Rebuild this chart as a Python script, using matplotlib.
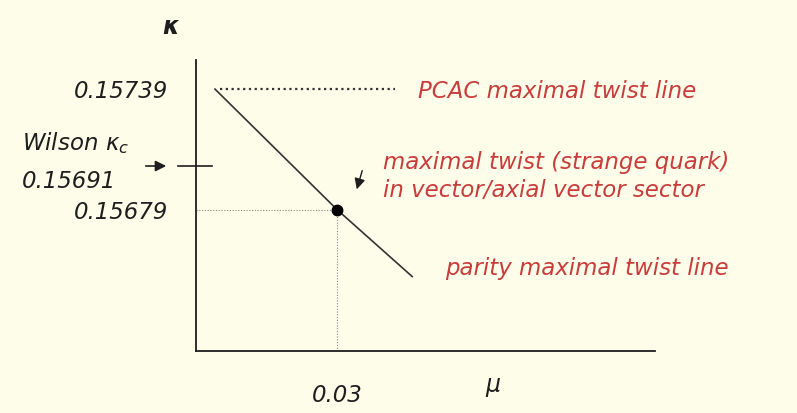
import numpy as np
import matplotlib
matplotlib.use('Agg')
import matplotlib.pyplot as plt

# schematic values
kappa_pcac = 0.15739
kappa_wilson = 0.15691
kappa_strange = 0.15679
mu_strange = 0.03

# parity maximal twist line (mu, kappa)
line_mu = [0.00404, 0.03, 0.0460]
line_kappa = [0.15739, 0.15679, 0.15661]
pcac_mu = [0.0051, 0.0423]

y_ticks = [kappa_pcac, kappa_strange]
y_labels = ['0.15739', '0.15679']
x_ticks = [mu_strange]
x_labels = ['0.03']

# the kappa axis of the sketch is not to scale: piecewise mapping
kap_knots = [0.15641, 0.15679, 0.15691, 0.15739, 0.15758]
pos_knots = [0.0, 0.486, 0.636, 0.900, 1.0]

def fwd(k):
    return np.interp(k, kap_knots, pos_knots)

def inv(p):
    return np.interp(p, pos_knots, kap_knots)

bg = '#FDFDE9'
red = '#C83C3C'
ink = '#1e1e1e'
W, H = 797, 413

fig = plt.figure(figsize=(W / 100, H / 100), dpi=100, facecolor=bg)
ax = fig.add_axes([196 / W, 62 / H, 459 / W, 291 / H])
ax.set_facecolor(bg)
ax.set_yscale('function', functions=(fwd, inv))
ax.set_xlim(0, 0.09766)
ax.set_ylim(kap_knots[0], kap_knots[-1])

for s in ['top', 'right']:
    ax.spines[s].set_visible(False)
for s in ['left', 'bottom']:
    ax.spines[s].set_linewidth(1.3)
    ax.spines[s].set_color(ink)

ax.set_yticks(y_ticks)
ax.set_yticklabels(y_labels)
ax.set_xticks(x_ticks)
ax.set_xticklabels(x_labels)
ax.yaxis.set_minor_locator(matplotlib.ticker.NullLocator())
ax.tick_params(axis='y', length=0, pad=20, labelsize=16.5, labelcolor=ink)
ax.tick_params(axis='x', length=0, pad=24, labelsize=16.5, labelcolor=ink)
for lab in ax.get_yticklabels() + ax.get_xticklabels():
    lab.set_fontstyle('italic')

# lines
ax.plot(line_mu, line_kappa, color='#333333', lw=1.2)
ax.plot(pcac_mu, [kappa_pcac, kappa_pcac], color='#333333', lw=1.6,
        linestyle=(0, (1, 1.6)))
ax.plot([0, mu_strange], [kappa_strange, kappa_strange], color='#888888',
        lw=0.8, linestyle=(0, (1, 1.5)))
ax.plot([mu_strange, mu_strange], [kap_knots[0], kappa_strange], color='#888888',
        lw=0.8, linestyle=(0, (1, 1.5)))
ax.plot([mu_strange], [kappa_strange], 'o', color='black', ms=7.5, zorder=5)

# Wilson kappa_c tick across the axis
ax.plot([-0.00383, 0.0034], [kappa_wilson, kappa_wilson], color=ink, lw=1.2,
        clip_on=False)

def figtxt(x, y, s, **kw):
    fig.text(x / W, 1 - y / H, s, **kw)

# arrows (figure pixel coordinates, y from top)
ax.annotate('', xy=(169, H - 166), xytext=(143, H - 166), xycoords='figure pixels',
            textcoords='figure pixels',
            arrowprops=dict(arrowstyle='-|>', color=ink, lw=1.2, mutation_scale=16))
ax.annotate('', xy=(356, H - 192), xytext=(363, H - 168), xycoords='figure pixels',
            textcoords='figure pixels',
            arrowprops=dict(arrowstyle='-|>', color=ink, lw=1.0, mutation_scale=16))

common = dict(fontsize=16.5, style='italic', va='center')
figtxt(22, 143, r'Wilson $\kappa_c$', color=ink, ha='left', **common)
figtxt(22, 182, '0.15691', color=ink, ha='left', **common)
figtxt(171, 27, r'$\boldsymbol{\kappa}$', color=ink, ha='center', va='center', fontsize=17)
figtxt(493, 387, r'$\mu$', color=ink, ha='center', va='center', fontsize=17)

figtxt(418, 92, 'PCAC maximal twist line', color=red, ha='left', **common)
figtxt(383, 162, 'maximal twist (strange quark)', color=red, ha='left', **common)
figtxt(383, 191, 'in vector/axial vector sector', color=red, ha='left', **common)
figtxt(445, 268, 'parity maximal twist line', color=red, ha='left', **common)

fig.savefig('out.png', dpi=100, facecolor=bg)
